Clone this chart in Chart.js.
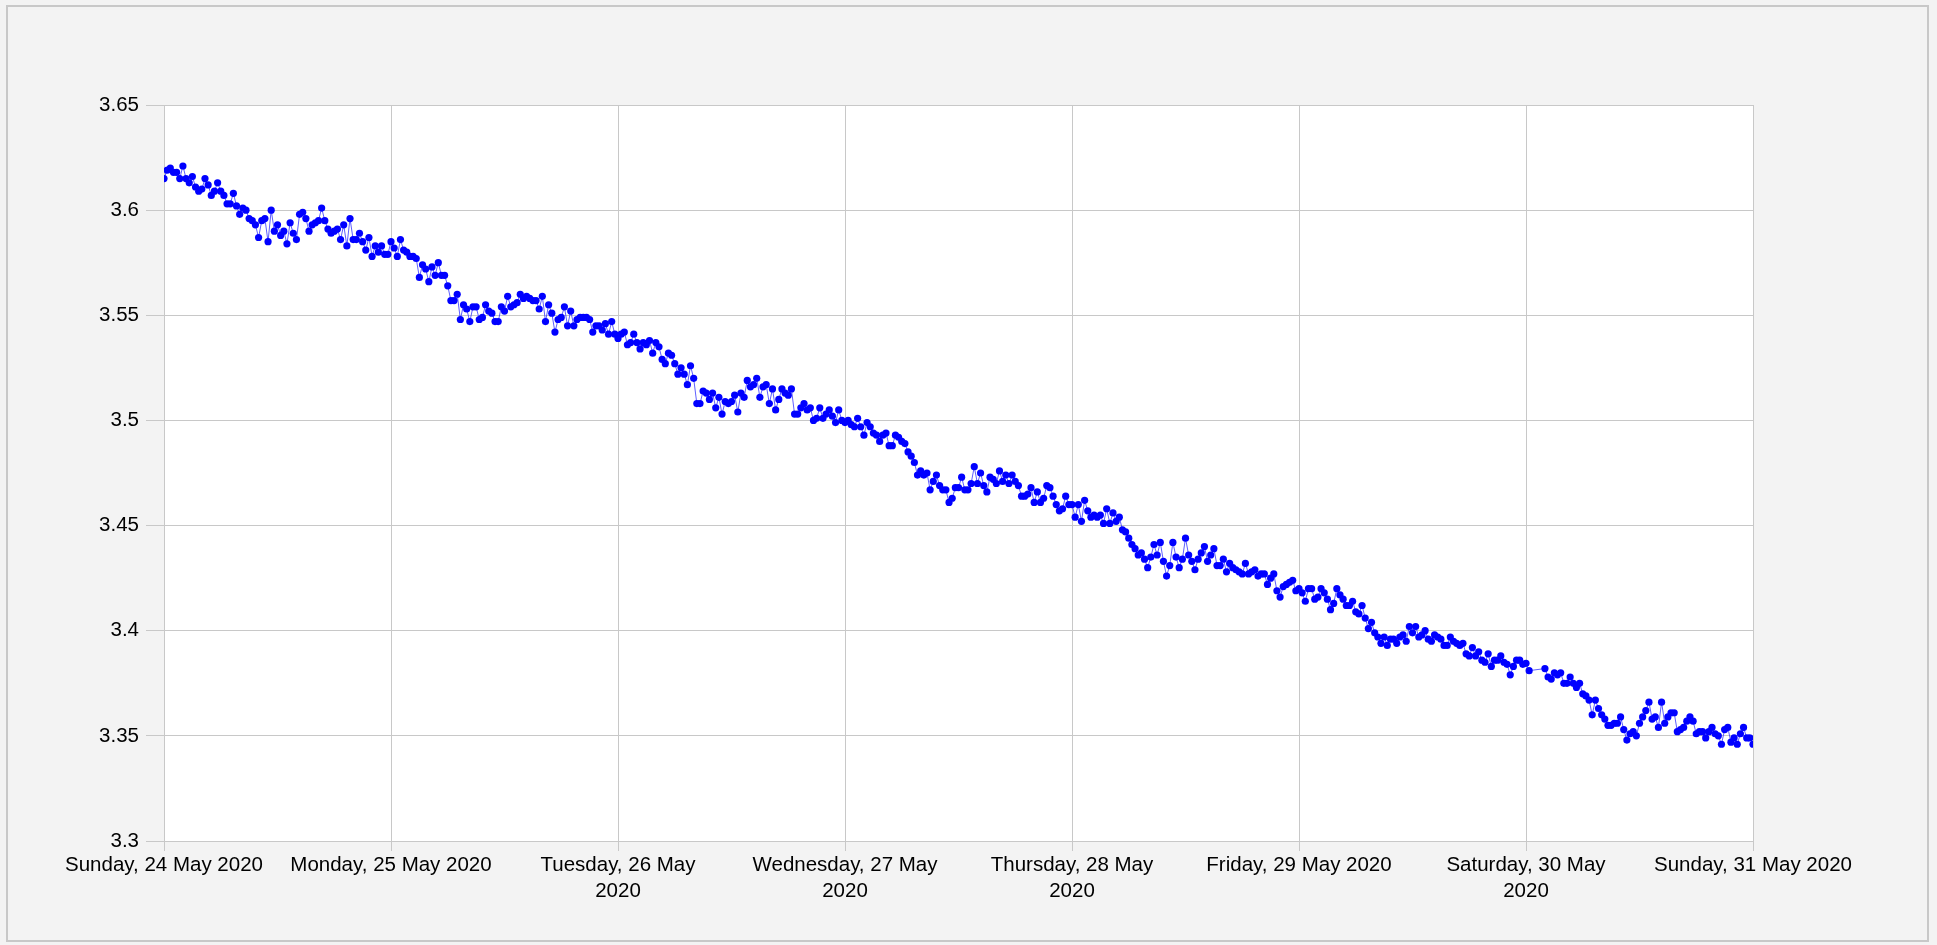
<!DOCTYPE html>
<html>
<head>
<meta charset="utf-8">
<title>Values 24-31 May 2020</title>
<script src="https://cdn.jsdelivr.net/npm/chart.js@4.4.1/dist/chart.umd.min.js"></script>
<style>
  html, body { margin:0; padding:0; background:#f3f3f3; overflow:hidden; }
  #wrap { position:relative; width:1937px; height:945px; }
  #frame { position:absolute; left:6px; top:5px; width:1923px; height:937px; box-sizing:border-box;
           border:2px solid #c8c8c8; pointer-events:none; }
</style>
</head>
<body>
<div id="wrap">
  <canvas id="lineChart"></canvas>
  <div id="frame"></div>
</div>
<script>
// one reading every 20 minutes, 72 per day
const day24 = [
  3.615,3.619,3.620,3.618,3.618,3.615,3.621,3.615,3.613,3.616,3.611,3.609,
  3.610,3.615,3.612,3.607,3.609,3.613,3.609,3.607,3.603,3.603,3.608,3.602,
  3.598,3.601,3.600,3.596,3.595,3.593,3.587,3.595,3.596,3.585,3.600,3.590,
  3.593,3.588,3.590,3.584,3.594,3.589,3.586,3.598,3.599,3.596,3.590,3.593,
  3.594,3.595,3.601,3.595,3.591,3.589,3.590,3.591,3.586,3.593,3.583,3.596,
  3.586,3.586,3.589,3.585,3.581,3.587,3.578,3.583,3.580,3.583,3.579,3.579
];
const day25 = [
  3.585,3.582,3.578,3.586,3.581,3.580,3.578,3.578,3.577,3.568,3.574,3.572,
  3.566,3.573,3.569,3.575,3.569,3.569,3.564,3.557,3.557,3.560,3.548,3.555,
  3.553,3.547,3.554,3.554,3.548,3.549,3.555,3.552,3.551,3.547,3.547,3.554,
  3.552,3.559,3.554,3.555,3.556,3.560,3.558,3.559,3.558,3.557,3.557,3.553,
  3.559,3.547,3.555,3.551,3.542,3.548,3.549,3.554,3.545,3.552,3.545,3.548,
  3.549,3.549,3.549,3.548,3.542,3.545,3.545,3.543,3.546,3.541,3.547,3.541
];
const day26 = [
  3.539,3.541,3.542,3.536,3.537,3.541,3.537,3.534,3.537,3.536,3.538,3.532,
  3.537,3.535,3.529,3.527,3.532,3.531,3.527,3.522,3.525,3.522,3.517,3.526,
  3.520,3.508,3.508,3.514,3.513,3.510,3.513,3.506,3.511,3.503,3.509,3.508,
  3.509,3.512,3.504,3.513,3.511,3.519,3.516,3.517,3.520,3.511,3.516,3.517,
  3.508,3.515,3.505,3.510,3.515,3.513,3.512,3.515,3.503,3.503,3.506,3.508,
  3.505,3.506,3.500,3.501,3.506,3.501,3.503,3.505,3.502,3.499,3.505,3.500
];
const day27 = [
  3.499,3.500,3.498,3.497,3.501,3.497,3.493,3.499,3.497,3.494,3.493,3.490,
  3.493,3.494,3.488,3.488,3.493,3.492,3.490,3.489,3.485,3.483,3.480,3.474,
  3.476,3.474,3.475,3.467,3.471,3.474,3.469,3.467,3.467,3.461,3.463,3.468,
  3.468,3.473,3.467,3.467,3.470,3.478,3.470,3.475,3.469,3.466,3.473,3.472,
  3.470,3.476,3.471,3.474,3.470,3.474,3.471,3.469,3.464,3.464,3.465,3.468,
  3.461,3.466,3.461,3.463,3.469,3.468,3.464,3.460,3.457,3.458,3.464,3.460
];
const day28 = [
  3.460,3.454,3.460,3.452,3.462,3.457,3.454,3.455,3.454,3.455,3.451,3.458,
  3.451,3.456,3.452,3.454,3.448,3.447,3.444,3.441,3.439,3.436,3.437,3.434,
  3.430,3.435,3.441,3.436,3.442,3.433,3.426,3.431,3.442,3.435,3.430,3.434,
  3.444,3.436,3.433,3.429,3.434,3.437,3.440,3.433,3.436,3.439,3.431,3.431,
  3.434,3.428,3.432,3.430,3.429,3.428,3.427,3.432,3.427,3.428,3.429,3.426,
  3.427,3.427,3.422,3.425,3.427,3.419,3.416,3.421,3.422,3.423,3.424,3.419
];
const day29 = [
  3.420,3.418,3.414,3.420,3.420,3.415,3.416,3.420,3.418,3.415,3.410,3.413,
  3.420,3.417,3.415,3.412,3.412,3.414,3.409,3.408,3.412,3.406,3.401,3.404,
  3.399,3.397,3.394,3.397,3.393,3.396,3.396,3.394,3.397,3.398,3.395,3.402,
  3.399,3.402,3.397,3.398,3.400,3.396,3.395,3.398,3.397,3.396,3.393,3.393,
  3.397,3.395,3.394,3.393,3.394,3.389,3.388,3.392,3.388,3.390,3.386,3.385,
  3.389,3.383,3.386,3.386,3.388,3.385,3.384,3.379,3.383,3.386,3.386,3.384
];
// a few readings missing just after midnight on the 30th
const day30 = [
  3.3845,3.381,null,null,null,null,
  3.382,3.378,3.377,3.380,3.379,3.380,3.375,3.375,3.378,3.375,3.373,3.375,
  3.370,3.369,3.367,3.360,3.367,3.363,3.360,3.358,3.355,3.355,3.356,3.356,
  3.359,3.353,3.348,3.351,3.352,3.350,3.356,3.359,3.362,3.366,3.358,3.359,
  3.354,3.366,3.356,3.359,3.361,3.361,3.352,3.353,3.354,3.357,3.359,3.357,
  3.351,3.352,3.352,3.349,3.352,3.354,3.351,3.350,3.346,3.353,3.354,3.347,
  3.349,3.346,3.351,3.354,3.349,3.349
];
const day31 = [3.346];

const xTickLabels = [
  'Sunday, 24 May 2020',
  'Monday, 25 May 2020',
  ['Tuesday, 26 May', '2020'],
  ['Wednesday, 27 May', '2020'],
  ['Thursday, 28 May', '2020'],
  'Friday, 29 May 2020',
  ['Saturday, 30 May', '2020'],
  'Sunday, 31 May 2020'
];
const HOURS_PER_READING = 1 / 3;
const Y_MIN = 3.3, Y_MAX = 3.65, Y_STEP = 0.05;

const values = [].concat(day24, day25, day26, day27, day28, day29, day30, day31);

// white plot area on the grey page
const plotBg = {
  id: 'plotBg',
  beforeDraw(chart) {
    const a = chart.chartArea, ctx = chart.ctx;
    ctx.save();
    ctx.fillStyle = '#ffffff';
    ctx.fillRect(a.left, a.top, a.right - a.left, a.bottom - a.top);
    ctx.restore();
  }
};

document.addEventListener('DOMContentLoaded', () => {
  const ctx = document.getElementById('lineChart').getContext('2d');
  const points = values.map((v, i) => ({ x: i * HOURS_PER_READING, y: v }));
  const gridColor = '#c8c8c8';
  const font = { family: '"Liberation Sans", Arial, sans-serif', size: 20.5, lineHeight: 1.27 };

  new Chart(ctx, {
    type: 'line',
    data: {
      datasets: [{
        data: points,
        borderColor: 'rgba(40,40,255,0.75)',
        borderWidth: 1,
        pointBackgroundColor: '#0000ff',
        pointBorderWidth: 0,
        pointRadius: 3.6,
        tension: 0,
        spanGaps: true
      }]
    },
    options: {
      responsive: true,
      maintainAspectRatio: false,
      animation: false,
      layout: { padding: { left: 0, top: 105, right: 184, bottom: 0 } },
      plugins: { legend: { display: false }, tooltip: { enabled: false } },
      scales: {
        x: {
          type: 'linear',
          min: 0,
          max: 168,
          afterFit: s => { s.height = 104; },
          grid: { color: gridColor, tickColor: gridColor, tickLength: 10 },
          border: { color: gridColor },
          ticks: {
            stepSize: 24,
            autoSkip: false,
            maxRotation: 0,
            minRotation: 0,
            padding: 1,
            color: '#000',
            font,
            callback: v => xTickLabels[Math.round(v / 24)]
          }
        },
        y: {
          min: Y_MIN,
          max: Y_MAX,
          afterFit: s => { s.width = 164; },
          grid: { color: gridColor, tickColor: gridColor, tickLength: 18 },
          border: { color: gridColor },
          ticks: {
            stepSize: Y_STEP,
            padding: 7,
            color: '#000',
            font,
            callback: v => String(+v.toFixed(2))
          }
        }
      }
    },
    plugins: [plotBg]
  });
});
</script>
</body>
</html>
